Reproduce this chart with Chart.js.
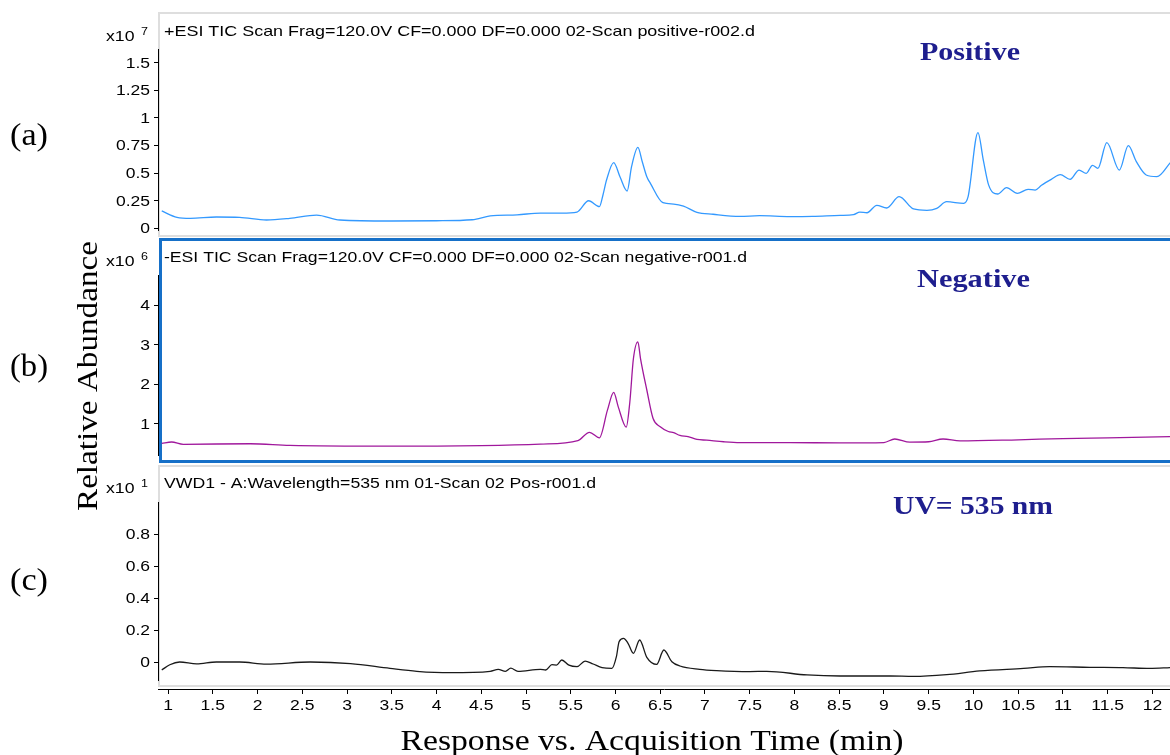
<!DOCTYPE html>
<html>
<head>
<meta charset="utf-8">
<script src="https://cdn.jsdelivr.net/npm/chart.js@4.4.0/dist/chart.umd.min.js"></script>
<style>
html, body { margin: 0; padding: 0; background: #fff; }
#wrap { position: relative; width: 1170px; height: 755px; overflow: hidden; }
canvas { position: absolute; left: 0; top: 0; }
</style>
</head>
<body>
<div id="wrap">
  <canvas id="cPos" width="1170" height="755"></canvas>
  <canvas id="cNeg" width="1170" height="755"></canvas>
  <canvas id="cUv" width="1170" height="755"></canvas>
  <canvas id="cAxis" width="1170" height="755"></canvas>
</div>
<script>
// chromatograms: +ESI TIC, -ESI TIC, UV 535 nm (time in min)

const posTime = [0.93, 1.10, 1.25, 1.54, 1.80, 2.10, 2.36, 2.66, 2.92, 3.48, 4.0, 4.4, 4.6, 4.9, 5.16, 5.4, 5.57,
  5.70, 5.82, 5.86, 5.90, 5.98, 6.05, 6.13, 6.18, 6.25, 6.30, 6.35, 6.39, 6.53, 6.65, 6.76, 6.91, 7.09, 7.39, 7.61,
  7.95, 8.2, 8.51, 8.66, 8.73, 8.81, 8.92, 9.03, 9.17, 9.33, 9.48, 9.59, 9.70, 9.89, 9.94, 10.05, 10.11, 10.17,
  10.27, 10.37, 10.49, 10.61, 10.69, 10.76, 10.87, 10.97, 11.08, 11.18, 11.26, 11.33, 11.39, 11.49, 11.63, 11.73,
  11.82, 11.93, 12.05, 12.2];
const posAbund = [0.155, 0.097, 0.088, 0.10, 0.097, 0.073, 0.088, 0.118, 0.073, 0.064, 0.066, 0.075, 0.11, 0.12, 0.136, 0.135, 0.145,
  0.248, 0.194, 0.30, 0.436, 0.594, 0.466, 0.336, 0.56, 0.733, 0.60, 0.466, 0.406, 0.23, 0.218, 0.20, 0.143, 0.125, 0.106, 0.112,
  0.103, 0.105, 0.115, 0.121, 0.145, 0.139, 0.206, 0.182, 0.285, 0.173, 0.161, 0.179, 0.239, 0.224, 0.285, 0.867, 0.618, 0.39,
  0.309, 0.367, 0.315, 0.352, 0.345, 0.388, 0.442, 0.485, 0.442, 0.527, 0.497, 0.57, 0.542, 0.776, 0.527, 0.748,
  0.603, 0.482, 0.467, 0.594];

const negTime = [0.93, 1.04, 1.17, 1.92, 2.36, 3.48, 4.0, 4.5, 5.16, 5.58, 5.71, 5.82, 5.91, 5.98, 6.03, 6.12, 6.16,
  6.20, 6.25, 6.28, 6.35, 6.42, 6.50, 6.59, 6.65, 6.72, 6.81, 6.91, 7.02, 7.21, 7.39, 7.95, 8.5, 9.0, 9.12, 9.29,
  9.5, 9.66, 9.85, 10.5, 11.0, 11.5, 12.2];
const negAbund = [0.51, 0.544, 0.486, 0.50, 0.46, 0.44, 0.44, 0.45, 0.49, 0.58, 0.79, 0.65, 1.35, 1.80, 1.44, 0.92, 1.55,
  2.65, 3.08, 2.65, 1.86, 1.14, 0.93, 0.81, 0.78, 0.71, 0.68, 0.61, 0.59, 0.55, 0.53, 0.53, 0.52, 0.53, 0.62, 0.54,
  0.55, 0.62, 0.57, 0.60, 0.63, 0.65, 0.68];

const uvTime = [0.93, 1.02, 1.13, 1.32, 1.54, 1.80, 2.10, 2.59, 3.04, 3.48, 3.78, 4.15, 4.60, 4.69, 4.77, 4.83, 4.91,
  5.16, 5.22, 5.29, 5.34, 5.40, 5.48, 5.57, 5.66, 5.75, 5.85, 5.96, 6.01, 6.04, 6.09, 6.14, 6.20, 6.27, 6.35, 6.46,
  6.54, 6.63, 6.72, 6.94, 7.13, 7.50, 7.69, 8.14, 8.51, 9.07, 9.33, 9.70, 10.07, 10.56, 10.85, 11.30, 11.67, 11.97, 12.2];
const uvAbs = [-0.05, -0.017, 0.0, -0.012, 0.0, 0.0, -0.013, 0.0, -0.01, -0.04, -0.058, -0.067, -0.058, -0.046, -0.058, -0.038, -0.058,
  -0.046, -0.05, -0.017, -0.019, 0.0125, -0.02, -0.029, 0.006, -0.0125, -0.035, -0.04, 0.033, 0.127, 0.148, 0.117, 0.054, 0.1375, 0.029, -0.015,
  0.075, 0.002, -0.025, -0.046, -0.054, -0.06, -0.058, -0.081, -0.0875, -0.0875, -0.09, -0.079, -0.056, -0.04, -0.029, -0.033, -0.035, -0.04, -0.035];

const posTicks = [0, 0.25, 0.5, 0.75, 1, 1.25, 1.5];
const negTicks = [1, 2, 3, 4];
const uvTicks = [0, 0.2, 0.4, 0.6, 0.8];
const timeTicks = [1, 1.5, 2, 2.5, 3, 3.5, 4, 4.5, 5, 5.5, 6, 6.5, 7, 7.5, 8, 8.5, 9, 9.5, 10, 10.5, 11, 11.5, 12];

const X_MIN = 0.888, X_MAX = 12.196;
const SANS = '"Liberation Sans", Arial, sans-serif';
const SERIF = '"Liberation Serif", "Times New Roman", serif';
const NAVY = '#1e1e8e';
const SX = 1.25; // text in the source image is stretched horizontally

// draws text, optionally stretched to a given width
function drawText(ctx, text, x, y, font, color, align, width, sx) {
  ctx.save();
  ctx.font = font;
  ctx.fillStyle = color;
  ctx.textBaseline = 'alphabetic';
  ctx.textAlign = 'left';
  const w = ctx.measureText(text).width;
  const k = width ? width / w : (sx || 1);
  let x0 = x;
  if (align === 'right') x0 = x - w * k;
  else if (align === 'center') x0 = x - w * k / 2;
  ctx.translate(x0, y);
  ctx.scale(k, 1);
  ctx.fillText(text, 0, 0);
  ctx.restore();
}

function panelPlugin(p) {
  return {
    id: 'panel_' + p.key,
    beforeDraw(chart) {
      const ctx = chart.ctx;
      ctx.save();
      ctx.strokeStyle = p.frameColor;
      ctx.lineWidth = p.frameWidth;
      ctx.strokeRect(p.frame[0], p.frame[1], 1200, p.frame[2] - p.frame[1]);
      ctx.restore();
    },
    afterDraw(chart) {
      const ctx = chart.ctx;
      const ys = chart.scales.y;
      ys.ticks.forEach(t => {
        const py = ys.getPixelForValue(t.value);
        drawText(ctx, String(t.value), 150, py + 5, '14px ' + SANS, '#000', 'right', null, SX);
      });
      drawText(ctx, p.title, 164, p.titleY, '15px ' + SANS, '#000', 'left', p.titleW);
      drawText(ctx, 'x10', 106, p.expY, '14px ' + SANS, '#000', 'left', 28.5);
      drawText(ctx, p.exp, 141, p.expY - 6, '10px ' + SANS, '#000', 'left', null, SX);
      drawText(ctx, p.note, p.noteX, p.noteY, 'bold 26px ' + SERIF, NAVY, 'left', p.noteW);
    }
  };
}

function makePanel(id, times, values, color, yMin, yMax, top, bottom, yTicks, plugin) {
  return new Chart(document.getElementById(id), {
    type: 'line',
    data: {
      datasets: [{
        data: times.map((t, i) => ({ x: t, y: values[i] })),
        borderColor: color,
        borderWidth: 1.3,
        pointRadius: 0,
        cubicInterpolationMode: 'monotone',
        fill: false
      }]
    },
    options: {
      responsive: false,
      animation: false,
      devicePixelRatio: 1,
      layout: { padding: { left: 0, right: 0, top: top, bottom: 755 - bottom } },
      plugins: { legend: { display: false }, tooltip: { enabled: false } },
      scales: {
        x: { type: 'linear', display: false, min: X_MIN, max: X_MAX },
        y: {
          type: 'linear', min: yMin, max: yMax,
          afterFit(s) { s.width = 158; },
          afterBuildTicks(s) { s.ticks = yTicks.map(v => ({ value: v })); },
          grid: { drawOnChartArea: false, drawTicks: true, tickLength: 4, color: '#000' },
          border: { display: true, color: '#000', width: 1 },
          ticks: { display: false }
        }
      }
    },
    plugins: [plugin]
  });
}

makePanel('cPos', posTime, posAbund, '#3399ff', -0.018, 1.627, 49, 230, posTicks, panelPlugin({
  key: 'pos', frame: [159, 13, 236], frameColor: '#dedede', frameWidth: 2,
  title: '+ESI TIC Scan Frag=120.0V CF=0.000 DF=0.000 02-Scan positive-r002.d', titleY: 36, titleW: 591,
  exp: '7', expY: 41, note: 'Positive', noteX: 920, noteY: 60, noteW: 100
}));

makePanel('cNeg', negTime, negAbund, '#a0189c', 0.215, 4.77, 275, 455, negTicks, panelPlugin({
  key: 'neg', frame: [160.5, 239.5, 461.5], frameColor: '#1670c8', frameWidth: 3,
  title: '-ESI TIC Scan Frag=120.0V CF=0.000 DF=0.000 02-Scan negative-r001.d', titleY: 262, titleW: 583,
  exp: '6', expY: 266, note: 'Negative', noteX: 917, noteY: 287, noteW: 113
}));

makePanel('cUv', uvTime, uvAbs, '#1a1a1a', -0.1125, 1.0, 502, 680, uvTicks, panelPlugin({
  key: 'uv', frame: [159, 466, 686], frameColor: '#dedede', frameWidth: 2,
  title: 'VWD1 - A:Wavelength=535 nm 01-Scan 02 Pos-r001.d', titleY: 488, titleW: 432,
  exp: '1', expY: 493, note: 'UV= 535 nm', noteX: 893, noteY: 514, noteW: 160
}));

// shared time axis and outer labels
new Chart(document.getElementById('cAxis'), {
  type: 'line',
  data: { datasets: [] },
  options: {
    responsive: false,
    animation: false,
    devicePixelRatio: 1,
    layout: { padding: { left: 158, right: 0, top: 680, bottom: 0 } },
    plugins: { legend: { display: false }, tooltip: { enabled: false } },
    scales: {
      x: {
        type: 'linear', min: X_MIN, max: X_MAX,
        afterFit(s) { s.height = 66; },
        afterBuildTicks(s) { s.ticks = timeTicks.map(v => ({ value: v })); },
        grid: { drawOnChartArea: false, drawTicks: true, tickLength: 5, color: '#000' },
        border: { display: true, color: '#000', width: 1 },
        ticks: { display: false }
      },
      y: { display: false, min: 0, max: 1 }
    }
  },
  plugins: [{
    id: 'outer',
    afterDraw(chart) {
      const ctx = chart.ctx;
      const xs = chart.scales.x;
      xs.ticks.forEach(t => {
        drawText(ctx, String(t.value), xs.getPixelForValue(t.value), 710, '14px ' + SANS, '#000', 'center', null, SX);
      });
      drawText(ctx, 'Response vs. Acquisition Time (min)', 652, 750, '30px ' + SERIF, '#000', 'center', 503);
      drawText(ctx, '(a)', 10, 145, '31px ' + SERIF, '#000', 'left', 38);
      drawText(ctx, '(b)', 10, 376, '31px ' + SERIF, '#000', 'left', 38);
      drawText(ctx, '(c)', 10, 590, '31px ' + SERIF, '#000', 'left', 38);
      ctx.save();
      ctx.translate(97, 376);
      ctx.rotate(-Math.PI / 2);
      drawText(ctx, 'Relative Abundance', 0, 0, '30px ' + SERIF, '#000', 'center', 270);
      ctx.restore();
    }
  }]
});
</script>
</body>
</html>
